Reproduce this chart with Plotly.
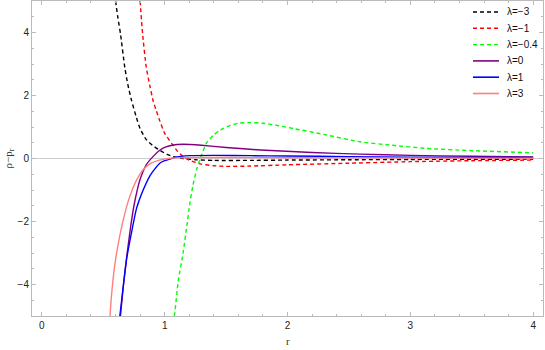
import plotly.graph_objects as go

# ---- data ----
r_m3 = [0.60, 0.62, 0.64, 0.675, 0.70, 0.73, 0.77, 0.80, 0.85, 0.90, 0.96, 1.02, 1.07, 1.15, 1.25, 1.4, 1.7, 2.0, 2.5, 3.0, 3.5, 4.0]
y_m3 = [5.0, 4.45, 3.97, 2.9, 2.35, 1.85, 1.3, 0.95, 0.6, 0.42, 0.26, 0.13, 0.06, 0.0, -0.04, -0.06, -0.06, -0.05, -0.04, -0.03, -0.025, -0.02]

r_m1 = [0.80, 0.82, 0.85, 0.88, 0.905, 0.93, 0.96, 1.0, 1.055, 1.1, 1.15, 1.2, 1.3, 1.4, 1.5, 1.7, 2.0, 2.5, 3.0, 3.5, 4.0]
y_m1 = [5.0, 3.97, 2.9, 2.3, 1.85, 1.54, 1.2, 0.8, 0.49, 0.25, 0.06, -0.05, -0.18, -0.23, -0.25, -0.24, -0.2, -0.15, -0.1, -0.07, -0.05]

r_m04 = [1.078, 1.082, 1.11, 1.15, 1.18, 1.205, 1.23, 1.26, 1.29, 1.34, 1.4, 1.45, 1.52, 1.6, 1.69, 1.8, 1.9, 2.05, 2.3, 2.59, 2.85, 3.13, 3.5, 4.0]
y_m04 = [-5.0, -4.92, -3.9, -3.0, -2.15, -1.43, -0.85, -0.36, 0.0, 0.49, 0.75, 0.9, 1.03, 1.12, 1.14, 1.12, 1.06, 0.95, 0.76, 0.53, 0.42, 0.32, 0.25, 0.18]

r_0 = [0.64, 0.665, 0.69, 0.72, 0.75, 0.78, 0.80, 0.85, 0.905, 0.96, 1.0, 1.07, 1.15, 1.3, 1.5, 1.78, 2.2, 2.59, 3.0, 3.5, 4.0]
y_0 = [-5.0, -4.0, -3.15, -2.25, -1.5, -0.95, -0.66, -0.2, 0.06, 0.26, 0.35, 0.43, 0.45, 0.42, 0.35, 0.27, 0.19, 0.14, 0.1, 0.07, 0.05]

r_1 = [0.635, 0.66, 0.69, 0.73, 0.77, 0.82, 0.88, 0.92, 0.96, 1.0, 1.04, 1.1, 1.2, 1.4, 1.7, 2.0, 2.5, 3.0, 4.0]
y_1 = [-5.0, -4.15, -3.2, -2.35, -1.6, -1.05, -0.55, -0.33, -0.15, -0.07, -0.02, 0.05, 0.09, 0.1, 0.09, 0.08, 0.06, 0.04, 0.03]

r_3 = [0.555, 0.565, 0.593, 0.62, 0.648, 0.70, 0.74, 0.78, 0.83, 0.89, 0.95, 1.03, 1.1, 1.3, 1.6, 2.0, 3.0, 4.0]
y_3 = [-5.0, -4.45, -3.41, -2.75, -2.2, -1.4, -0.95, -0.62, -0.33, -0.15, -0.06, 0.0, 0.02, 0.03, 0.03, 0.025, 0.015, 0.01]

labels = ["λ=−3", "λ=−1", "λ=−0.4", "λ=0", "λ=1", "λ=3"]
colors = ["#000000", "#FF0000", "#00FF00", "#800080", "#0000FF", "#FF8080"]
dashes = ["4px,3px", "4px,3px", "4px,3px", "solid", "solid", "solid"]

xs = [r_m3, r_m1, r_m04, r_0, r_1, r_3]
ys = [y_m3, y_m1, y_m04, y_0, y_1, y_3]

W, H = 545, 350
ML, MR, MT, MB = 32, 2, 1, 34
PW, PH = W - ML - MR, H - MT - MB

def px_x(p):
    return (p - ML) / PW

def px_y(p):
    return 1 - (p - MT) / PH

fig = go.Figure()
for x, y, lab, c, d in zip(xs, ys, labels, colors, dashes):
    fig.add_trace(go.Scatter(x=x, y=y, mode="lines", name=lab, showlegend=False,
                             line=dict(color=c, width=1.4, dash=d, shape="spline", smoothing=0.5)))

# manual legend (compact spacing like the reference)
shapes = []
annotations = []
leg_y0, leg_dy = 12.0, 16.3
for i, (lab, c, d) in enumerate(zip(labels, colors, dashes)):
    yy = px_y(leg_y0 + i * leg_dy)
    shapes.append(dict(type="line", xref="paper", yref="paper",
                       x0=px_x(473), x1=px_x(499), y0=yy, y1=yy,
                       line=dict(color=c, width=1.6 if d == "solid" else 1.4, dash=d)))
    annotations.append(dict(text=lab, x=px_x(505), y=yy, xref="paper", yref="paper",
                            showarrow=False, xanchor="left", yanchor="middle",
                            font=dict(family="Liberation Sans, Arial, sans-serif", size=10, color="#111")))

annotations += [
    dict(text="ρ−p<sub>r</sub>", x=px_x(8), y=0.5, xref="paper", yref="paper",
         textangle=-90, showarrow=False, xanchor="center", yanchor="middle",
         font=dict(family="Liberation Serif, Times New Roman, serif", size=11, color="#333")),
    dict(text="r", x=px_x(288), y=px_y(341), xref="paper", yref="paper",
         showarrow=False, xanchor="center", yanchor="middle",
         font=dict(family="Liberation Serif, Times New Roman, serif", size=11, color="#333")),
]

tickfont = dict(family="Liberation Sans, Arial, sans-serif", size=10, color="#222")
fig.update_layout(
    width=W, height=H,
    margin=dict(l=ML, r=MR, t=MT, b=MB),
    paper_bgcolor="white", plot_bgcolor="white",
    showlegend=False,
    xaxis=dict(range=[-0.08, 4.08], showgrid=False, zeroline=False,
               showline=True, linecolor="#bbbbbb", linewidth=1, mirror="allticks",
               ticks="inside", ticklen=4, tickcolor="#bbbbbb", dtick=1, tick0=0,
               minor=dict(ticks="inside", ticklen=2, dtick=0.2, tickcolor="#bbbbbb"),
               tickfont=tickfont),
    yaxis=dict(range=[-5, 5], showgrid=False, zeroline=True, zerolinecolor="#cccccc", zerolinewidth=1,
               showline=True, linecolor="#bbbbbb", linewidth=1, mirror="allticks",
               ticks="inside", ticklen=4, tickcolor="#bbbbbb", dtick=2, tick0=0,
               minor=dict(ticks="inside", ticklen=2, dtick=0.5, tickcolor="#bbbbbb"),
               tickfont=tickfont),
    shapes=shapes,
    annotations=annotations,
)

fig.write_html("out.html", config={"displayModeBar": False},
               post_script="document.body.style.margin='0';document.body.style.padding='0';")
